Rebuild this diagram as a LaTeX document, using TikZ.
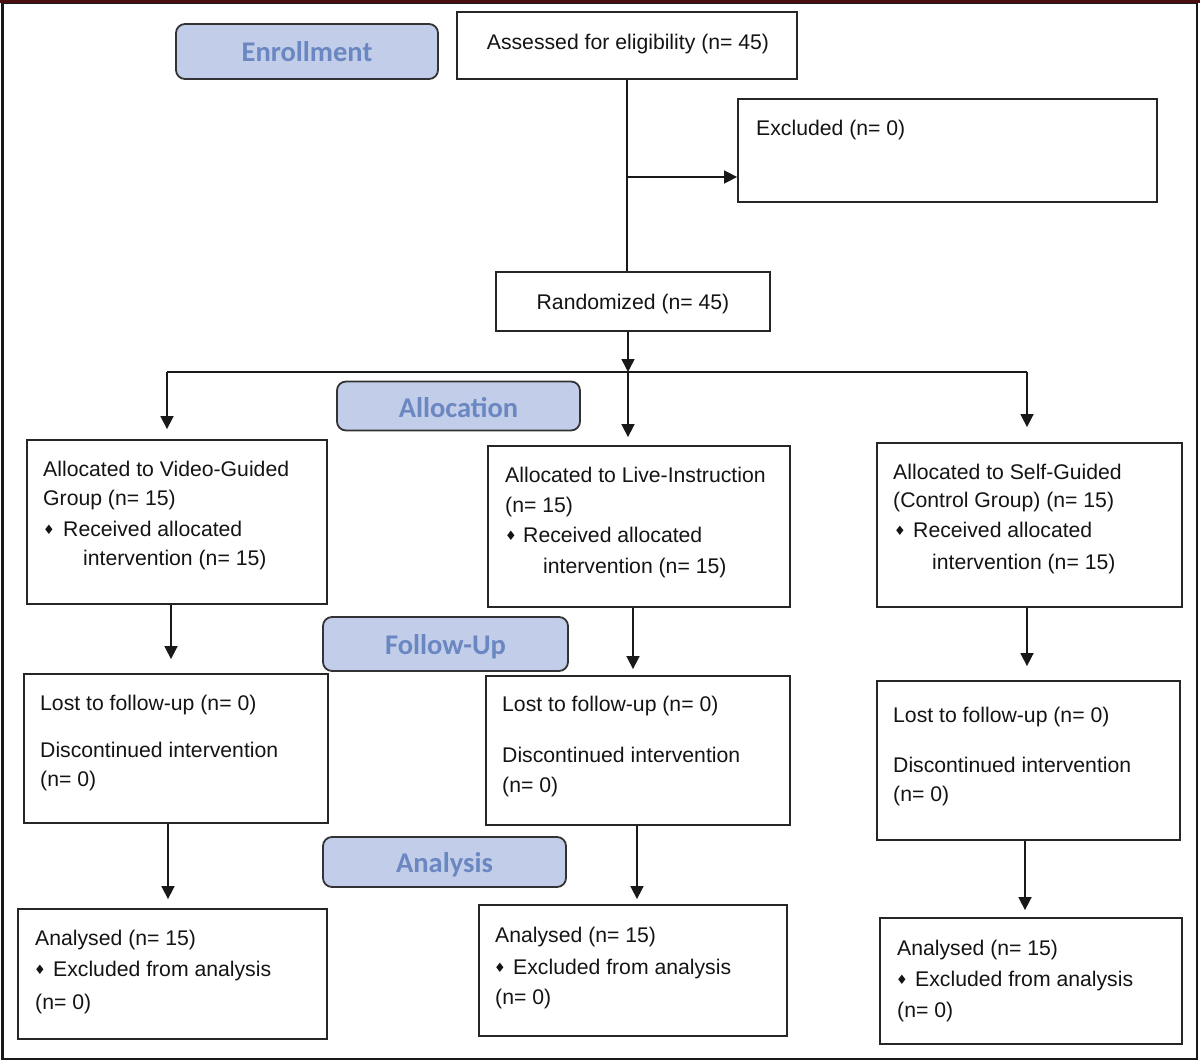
\documentclass[tikz,border=0pt]{standalone}
\usepackage{fontspec}
\setmainfont{Liberation Sans}
\newfontfamily\lblfont{Carlito}
\newfontfamily\symfont{DejaVu Sans}
\usetikzlibrary{arrows.meta}
\definecolor{lblfill}{HTML}{C2CDE9}
\definecolor{lbltext}{HTML}{6A87C2}
\definecolor{frametop}{HTML}{4A1010}
\tikzset{
 boxx/.style={draw=black!85, line width=1.8pt, inner sep=0pt, fill=white},
 phase/.style={draw=black!80, line width=1.8pt, rounded corners=9pt, fill=lblfill, inner sep=0pt},
 phasetxt/.style={font=\lblfont\bfseries\fontsize{28.5}{30}\selectfont, text=lbltext, anchor=base, inner sep=0pt},
 txt/.style={font=\fontsize{21.2}{25}\selectfont, anchor=base west, inner sep=0pt, text=black!92},
 ctxt/.style={txt, anchor=base},
 bul/.style={font=\symfont\fontsize{13}{13}\selectfont, inner sep=0pt, text=black!92},
 arr/.style={-{Triangle[length=13pt,width=13pt]}, line width=1.6pt, draw=black!90},
 conn/.style={line width=1.6pt, draw=black!90},
}
\newcommand\tl[4]{\node[txt] (#1) at (#2,#3+7.6) {#4};}
\newcommand\bl[3]{\node[bul] (#1) at (#2,#3+1) {♦};}
\begin{document}
\begin{tikzpicture}[x=1pt,y=-1pt]
\useasboundingbox (0,0) rectangle (1200,1062);
% frame
\draw[line width=2.8pt, black!90] (2.5,2.5) rectangle (1197,1059);
\draw[line width=3.5pt, frametop] (0,1.75) -- (1200,1.75);

% phase labels
\node[phase, minimum width=262pt, minimum height=55pt] (enr) at (307,51.5) {};
\node[phasetxt] (enrt) at (307,62) {Enrollment};
\node[phase, minimum width=243pt, minimum height=49pt] (alc) at (458.5,406) {};
\node[phasetxt] (alct) at (458.5,417) {Allocation};
\node[phase, minimum width=245pt, minimum height=54pt] (fu) at (445.5,644) {};
\node[phasetxt] (fut) at (445.5,654.5) {Follow-Up};
\node[phase, minimum width=243pt, minimum height=50pt] (an) at (444.5,862) {};
\node[phasetxt] (ant) at (444.5,872.5) {Analysis};

% boxes
\node[boxx, minimum width=340pt, minimum height=67pt] (assess) at (627,45.5) {};
\node[ctxt] (assesst) at (628,49.6) {Assessed for eligibility (n= 45)};
\node[boxx, minimum width=419pt, minimum height=103pt] (excl) at (947.5,150.5) {};
\tl{exclt}{756}{128}{Excluded (n= 0)}
\node[boxx, minimum width=274pt, minimum height=59pt] (rand) at (633,301.5) {};
\node[ctxt] (randt) at (633,309.6) {Randomized (n= 45)};

\node[boxx, minimum width=300pt, minimum height=164pt] (a1) at (177,522) {};
\node[boxx, minimum width=302pt, minimum height=161pt] (a2) at (639,526.5) {};
\node[boxx, minimum width=305pt, minimum height=164pt] (a3) at (1029.5,525) {};
\node[boxx, minimum width=304pt, minimum height=149pt] (f1) at (176,748.5) {};
\node[boxx, minimum width=304pt, minimum height=149pt] (f2) at (638,750.5) {};
\node[boxx, minimum width=303pt, minimum height=159pt] (f3) at (1028.5,760.5) {};
\node[boxx, minimum width=309pt, minimum height=130pt] (n1) at (172.5,974) {};
\node[boxx, minimum width=308pt, minimum height=131pt] (n2) at (633,970.5) {};
\node[boxx, minimum width=302pt, minimum height=126pt] (n3) at (1031,981) {};

% allocation texts
\tl{a1l1}{43}{469}{Allocated to Video-Guided}
\tl{a1l2}{43}{498}{Group (n= 15)}
\bl{a1b}{49}{529}
\tl{a1l3}{63}{529}{Received allocated}
\tl{a1l4}{83}{558}{intervention (n= 15)}

\tl{a2l1}{505}{475}{Allocated to Live-Instruction}
\tl{a2l2}{505}{505}{(n= 15)}
\bl{a2b}{511}{535}
\tl{a2l3}{523}{535}{Received allocated}
\tl{a2l4}{543}{566}{intervention (n= 15)}

\tl{a3l1}{893}{472}{Allocated to Self-Guided}
\tl{a3l2}{893}{500}{(Control Group) (n= 15)}
\bl{a3b}{900}{530}
\tl{a3l3}{913}{530}{Received allocated}
\tl{a3l4}{932}{562}{intervention (n= 15)}

% follow-up texts
\tl{f1l1}{40}{703}{Lost to follow-up (n= 0)}
\tl{f1l2}{40}{750}{Discontinued intervention}
\tl{f1l3}{40}{779}{(n= 0)}
\tl{f2l1}{502}{704}{Lost to follow-up (n= 0)}
\tl{f2l2}{502}{755}{Discontinued intervention}
\tl{f2l3}{502}{785}{(n= 0)}
\tl{f3l1}{893}{715}{Lost to follow-up (n= 0)}
\tl{f3l2}{893}{765}{Discontinued intervention}
\tl{f3l3}{893}{794}{(n= 0)}

% analysis texts
\tl{n1l1}{35}{938}{Analysed (n= 15)}
\bl{n1b}{40}{969}
\tl{n1l2}{53}{969}{Excluded from analysis}
\tl{n1l3}{35}{1002}{(n= 0)}
\tl{n2l1}{495}{935}{Analysed (n= 15)}
\bl{n2b}{500}{967}
\tl{n2l2}{513}{967}{Excluded from analysis}
\tl{n2l3}{495}{997}{(n= 0)}
\tl{n3l1}{897}{948}{Analysed (n= 15)}
\bl{n3b}{902}{979}
\tl{n3l2}{915}{979}{Excluded from analysis}
\tl{n3l3}{897}{1010}{(n= 0)}

% connectors
\draw[conn] (assess.south) -- (assess.south |- rand.north);
\coordinate (br) at (627,177);
\draw[arr] (br) -- (br -| excl.west);
\coordinate (split) at (628,372);
\draw[arr] (split |- rand.south) -- (split);
\coordinate (hl) at (167,372);
\coordinate (hr) at (1027,372);
\draw[conn] (hl) -- (hr);
\draw[arr, shorten >=10pt] (hl) -- (hl |- a1.north);
\draw[arr, shorten >=8pt] (split) -- (split |- a2.north);
\draw[arr, shorten >=15pt] (hr) -- (hr |- a3.north);

\path (a1.south) ++(-6,0) coordinate (a1s);
\draw[arr, shorten >=14pt] (a1s) -- (a1s |- f1.north);
\path (f1.south) ++(-8,0) coordinate (f1s);
\draw[arr, shorten >=9pt] (f1s) -- (f1s |- n1.north);
\path (a2.south) ++(-6,0) coordinate (a2s);
\draw[arr, shorten >=6pt] (a2s) -- (a2s |- f2.north);
\path (f2.south) ++(-1,0) coordinate (f2s);
\draw[arr, shorten >=5pt] (f2s) -- (f2s |- n2.north);
\path (a3.south) ++(-2.5,0) coordinate (a3s);
\draw[arr, shorten >=14pt] (a3s) -- (a3s |- f3.north);
\path (f3.south) ++(-3.5,0) coordinate (f3s);
\draw[arr, shorten >=7pt] (f3s) -- (f3s |- n3.north);
\end{tikzpicture}
\end{document}
